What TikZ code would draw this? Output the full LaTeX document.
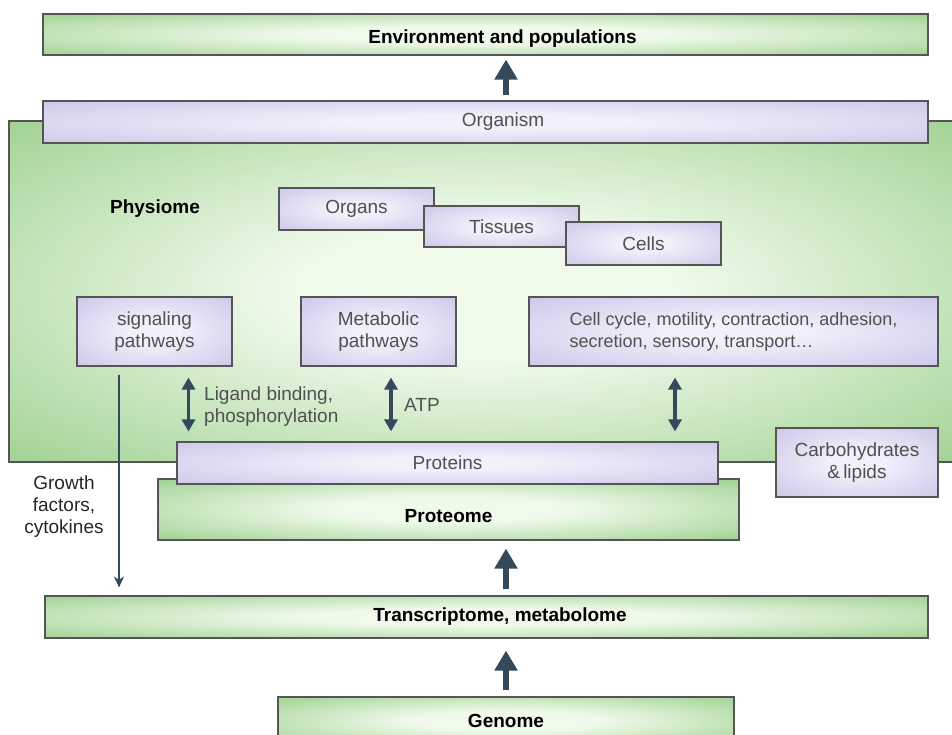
\documentclass[tikz,border=0pt]{standalone}
\usepackage{fontspec}
\setmainfont{Liberation Sans}
\usetikzlibrary{positioning, arrows.meta}

\definecolor{greenin}{HTML}{F0FAEB}
\definecolor{greenout}{HTML}{93CB84}
\definecolor{purplein}{HTML}{F2F0FB}
\definecolor{purpleout}{HTML}{C4BFE5}
\definecolor{boxline}{HTML}{555555}
\definecolor{arrowgray}{HTML}{34495A}
\definecolor{labelgray}{HTML}{505050}

\pgfdeclareradialshading{greenglow}{\pgfpoint{0bp}{0bp}}{color(0bp)=(greenin); color(10bp)=(greenin); color(40bp)=(greenout); color(75bp)=(greenout)}
\pgfdeclareradialshading{purpleglow}{\pgfpoint{0bp}{0bp}}{color(0bp)=(purplein); color(8bp)=(purplein); color(42bp)=(purpleout); color(75bp)=(purpleout)}

\begin{document}
\begin{tikzpicture}[x=1pt, y=-1pt]


\tikzstyle{green_box} = [draw=boxline, line width=1.1pt, shade, shading=greenglow, inner sep=0pt, font=\fontsize{19}{22}\selectfont\bfseries, text=black]

\tikzstyle{purple_box} = [draw=boxline, line width=1.1pt, shade, shading=purpleglow, inner sep=0pt, font=\fontsize{19}{22}\selectfont, text=labelgray, align=center]

\tikzstyle{arrow_big} = [draw=arrowgray, line width=6pt, -{Triangle[length=20pt, width=22pt]}, shorten <=6pt, shorten >=6pt]

\tikzstyle{arrow_both} = [draw=arrowgray, line width=3.2pt, {Triangle[length=12pt, width=13pt]}-{Triangle[length=12pt, width=13pt]}, shorten <=11pt, shorten >=10pt]

\tikzstyle{arrow_thin} = [draw=arrowgray, line width=2.8pt, -{Stealth[length=11pt, width=10pt]}, shorten <=8pt, shorten >=8pt]

\tikzstyle{side_label} = [inner sep=0pt, align=left, font=\fontsize{19}{22}\selectfont, text=labelgray]


\useasboundingbox (0, 0) rectangle (952, 735);

\node[green_box, minimum width=951pt, minimum height=341pt] (phys) at (484.5, 291.5) {};

\node[green_box, minimum width=885pt, minimum height=41pt] (env) at (485.5, 34.5) {\raisebox{-9.5pt}[0pt][0pt]{\hspace*{34pt}Environment and populations}};
\node[purple_box, minimum width=885pt, minimum height=42pt] (org) at (485.5, 122) {\hspace*{35pt}Organism};

\node[inner sep=0pt, font=\fontsize{19}{22}\selectfont\bfseries] (physlabel) at (155, 209) {Physiome};

\node[purple_box, minimum width=155pt, minimum height=42pt] (organs) at (356.5, 209) {Organs};
\node[purple_box, minimum width=155pt, minimum height=41pt] (tissues) at (501.5, 226.5) {Tissues};
\node[purple_box, minimum width=155pt, minimum height=43pt] (cells) at (643.5, 243.5) {Cells};

\node[purple_box, minimum width=155pt, minimum height=69pt] (sig) at (154.5, 331.5) {signaling\\pathways};
\node[purple_box, minimum width=155pt, minimum height=69pt] (met) at (378.5, 331.5) {Metabolic\\pathways};
\node[purple_box, minimum width=409pt, minimum height=69pt, align=left, font=\fontsize{18}{22}\selectfont] (cyc) at (733.5, 331.5) {Cell cycle, motility, contraction, adhesion,\\secretion, sensory, transport\dots};

\node[green_box, minimum width=581pt, minimum height=61pt] (prm) at (448.5, 509.5) {\raisebox{-13pt}[0pt][0pt]{Proteome}};
\node[purple_box, minimum width=541pt, minimum height=42pt] (pro) at (447.5, 463) {Proteins};

\node[purple_box, minimum width=162pt, minimum height=69pt] (carb) at (857, 462.5) {Carbohydrates\\\&\,lipids};

\node[green_box, minimum width=883pt, minimum height=42pt] (tra) at (486.5, 617) {\hspace*{27pt}Transcriptome, metabolome};
\node[green_box, minimum width=456pt, minimum height=48pt] (gen) at (506, 721) {Genome};


\node[side_label, anchor=west] (lig) at (204, 407) {Ligand binding,\\phosphorylation};
\node[side_label, anchor=west] (atp) at (404, 405) {ATP};
\node[side_label, align=center, text=black!85] (growth) at (64, 507) {Growth\\factors,\\cytokines};


\coordinate (sig_arrow) at ([xshift=34pt]sig.south);
\coordinate (met_arrow) at ([xshift=12.5pt]met.south);
\coordinate (cyc_arrow) at ([xshift=-58.5pt]cyc.south);
\coordinate (grow_arrow) at ([xshift=-35.5pt]sig.south);

\draw[arrow_big, shorten <=5pt, shorten >=4pt]  (org.north -| gen) -- (env.south -| gen);
\draw[arrow_big, shorten >=8pt]  (tra.north -| gen) -- (prm.south -| gen);
\draw[arrow_big, shorten >=12pt]  (gen.north) -- (tra.south -| gen);

\draw[arrow_both]  (sig_arrow) -- (sig_arrow |- pro.north);
\draw[arrow_both]  (met_arrow) -- (met_arrow |- pro.north);
\draw[arrow_both]  (cyc_arrow) -- (cyc_arrow |- pro.north);

\draw[arrow_thin]  (grow_arrow) -- (grow_arrow |- tra.north);


\end{tikzpicture}
\end{document}
